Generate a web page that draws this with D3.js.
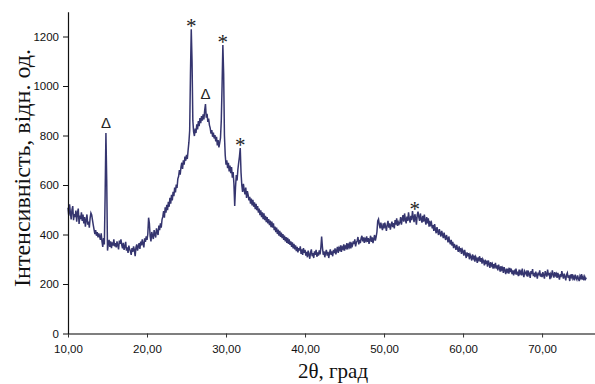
<!DOCTYPE html>
<html>
<head>
<meta charset="utf-8">
<script src="https://cdn.jsdelivr.net/npm/d3@7"></script>
<style>
  body { margin: 0; background: #fff; }
  svg { display: block; }
</style>
</head>
<body>
<svg id="chart" width="595" height="384"></svg>
<script>
// scan: 2theta from 10 deg, step 0.1 deg
const scanStart = 10;
const scanStep = 0.1;

// intensity, 20 values per 2 deg
const intensity = [
  508, 476, 522, 489, 461, 500, 515, 458, 482, 470, 497, 452, 486, 505, 443, 476, 462, 490, 455, 481,   // 10
  445, 470, 432, 458, 481, 440, 452, 428, 466, 487, 479, 458, 438, 420, 402, 418, 395, 410, 388, 404,   // 12
  392, 378, 405, 372, 350, 386, 360, 560, 810, 620, 335, 362, 378, 350, 372, 345, 368, 355, 380, 352,   // 14
  365, 348, 372, 356, 340, 375, 362, 380, 358, 344, 366, 338, 352, 370, 335, 348, 326, 355, 340, 332,   // 16
  318, 345, 330, 352, 338, 312, 348, 360, 335, 352, 365, 342, 371, 356, 380, 362, 348, 385, 370, 392,   // 18
  378, 402, 468, 445, 392, 372, 410, 395, 382, 418, 400, 388, 425, 410, 398, 436, 418, 445, 428, 460,   // 20
  472, 495, 468, 510, 488, 520, 498, 532, 512, 548, 525, 560, 538, 572, 555, 590, 570, 602, 588, 625,   // 22
  635, 660, 642, 672, 690, 665, 700, 682, 715, 698, 722, 705, 740, 772, 820, 1050, 1229, 1100, 860, 815, // 24
  798, 828, 810, 845, 825, 858, 838, 870, 850, 878, 860, 885, 865, 902, 927, 872, 888, 855, 868, 842,   // 26
  830, 808, 822, 795, 812, 788, 802, 776, 795, 760, 782, 752, 770, 790, 860, 1000, 1166, 1050, 800, 720, // 28
  682, 700, 668, 690, 655, 678, 648, 672, 630, 652, 605, 515, 590, 640, 618, 662, 690, 715, 749, 650,   // 30
  598, 572, 605, 580, 562, 590, 548, 575, 560, 538, 552, 525, 545, 518, 540, 512, 530, 502, 524, 498,   // 32
  515, 488, 505, 478, 498, 470, 490, 462, 485, 458, 475, 450, 470, 445, 462, 438, 456, 430, 452, 428,   // 34
  445, 418, 432, 410, 428, 402, 420, 395, 415, 390, 408, 385, 402, 378, 396, 372, 390, 366, 386, 362,   // 36
  380, 358, 372, 350, 368, 344, 362, 340, 356, 333, 350, 328, 345, 335, 352, 322, 340, 318, 345, 326,   // 38
  338, 315, 330, 308, 335, 320, 302, 328, 340, 312, 325, 305, 332, 318, 338, 310, 328, 315, 336, 320,   // 40
  345, 392, 350, 318, 332, 308, 326, 338, 315, 330, 305, 325, 340, 318, 332, 312, 338, 325, 344, 320,   // 42
  335, 350, 326, 345, 338, 356, 330, 348, 342, 360, 335, 352, 346, 365, 340, 358, 350, 370, 344, 362,   // 44
  355, 372, 362, 380, 352, 368, 375, 390, 360, 378, 365, 385, 395, 372, 388, 366, 382, 375, 392, 370,   // 46
  385, 362, 378, 395, 370, 388, 365, 382, 398, 375, 390, 410, 455, 462, 440, 425, 448, 430, 418, 445,   // 48
  425, 448, 432, 415, 440, 455, 428, 445, 420, 438, 452, 430, 446, 425, 458, 440, 465, 435, 450, 442,   // 50
  448, 470, 440, 462, 478, 452, 485, 460, 445, 472, 455, 490, 462, 448, 475, 458, 495, 470, 450, 482,   // 52
  465, 440, 478, 492, 470, 455, 485, 462, 448, 475, 452, 480, 458, 440, 470, 445, 465, 432, 455, 440,   // 54
  448, 425, 438, 415, 442, 420, 405, 430, 412, 398, 422, 405, 392, 415, 400, 385, 408, 390, 378, 398,   // 56
  385, 368, 392, 372, 360, 378, 355, 370, 345, 362, 352, 338, 358, 342, 330, 352, 336, 345, 322, 340,   // 58
  332, 315, 338, 322, 305, 328, 312, 325, 300, 318, 310, 295, 320, 305, 315, 290, 310, 302, 285, 308,   // 60
  298, 312, 290, 305, 282, 300, 292, 275, 298, 285, 290, 270, 295, 282, 265, 288, 275, 282, 262, 280,   // 62
  270, 285, 262, 275, 255, 278, 265, 250, 272, 258, 265, 245, 268, 255, 240, 262, 250, 258, 242, 265,   // 64
  248, 262, 240, 255, 235, 252, 245, 262, 238, 250, 232, 258, 242, 250, 235, 262, 240, 228, 252, 245,   // 66
  238, 255, 230, 248, 242, 225, 252, 240, 260, 232, 245, 228, 250, 238, 222, 246, 235, 255, 230, 242,   // 68
  228, 248, 236, 222, 252, 240, 230, 258, 235, 245, 220, 240, 232, 255, 238, 226, 248, 235, 242, 225,   // 70
  245, 232, 218, 240, 228, 252, 236, 222, 242, 230, 215, 238, 245, 225, 235, 212, 238, 228, 240, 222,   // 72
  230, 215, 238, 225, 218, 235, 222, 212, 232, 224, 240, 218, 228, 215, 230, 220, 226                   // 74
];

// peak markers
const markTheta = [14.8, 25.6, 29.6, 27.4, 31.8, 53.9];
const markPeak = [810, 1229, 1166, 927, 749, 492];
const markSymbol = ['Δ', '*', '*', 'Δ', '*', '*'];

const xTicks = [10, 20, 30, 40, 50, 60, 70];
const yTicks = [0, 200, 400, 600, 800, 1000, 1200];

const lineColor = '#35356f';

const svg = d3.select('#chart');

const x = d3.scaleLinear().domain([10, 76.7]).range([68, 595]);
const y = d3.scaleLinear().domain([0, 1300]).range([333.5, 11.75]);

const points = intensity.map((v, i) => ({ t: scanStart + i * scanStep, v: v }));

// pattern
svg.append('path')
  .datum(points)
  .attr('fill', 'none')
  .attr('stroke', lineColor)
  .attr('stroke-width', 1.5)
  .attr('d', d3.line().x(d => x(d.t)).y(d => y(d.v)));

// x axis
const xAxis = svg.append('g')
  .attr('transform', `translate(0,${y(0)})`)
  .call(d3.axisBottom(x)
    .tickValues(xTicks)
    .tickSize(4)
    .tickSizeOuter(0)
    .tickFormat(d => d3.format('.2f')(d).replace('.', ',')));
xAxis.select('.domain').attr('stroke', '#555').attr('stroke-width', 1.6);
xAxis.selectAll('.tick line').attr('stroke', '#333');
xAxis.selectAll('.tick text')
  .attr('y', 11)
  .attr('fill', '#111')
  .style('font-family', '"Liberation Sans", Arial, sans-serif')
  .style('font-size', '11.5px');

// y axis
const yAxis = svg.append('g')
  .attr('transform', `translate(${x(10)},0)`)
  .call(d3.axisLeft(y)
    .tickValues(yTicks)
    .tickSize(5)
    .tickSizeOuter(0)
    .tickFormat(d3.format('d')));
yAxis.select('.domain').attr('stroke', '#111').attr('stroke-width', 1.2);
yAxis.selectAll('.tick line').attr('stroke', '#111');
yAxis.selectAll('.tick text')
  .attr('x', -9)
  .attr('fill', '#111')
  .style('font-family', '"Liberation Sans", Arial, sans-serif')
  .style('font-size', '11.5px');

// markers over peaks
svg.selectAll('.mark')
  .data(markTheta)
  .enter()
  .append('text')
  .attr('class', 'mark')
  .attr('x', d => x(d))
  .attr('y', (d, i) => markSymbol[i] === '*' ? y(markPeak[i]) + 4 : y(markPeak[i]) - 5)
  .attr('text-anchor', 'middle')
  .attr('fill', '#222')
  .style('font-family', (d, i) => markSymbol[i] === '*' ? '"Liberation Serif", "Times New Roman", serif' : '"Liberation Sans", Arial, sans-serif')
  .style('font-size', (d, i) => markSymbol[i] === '*' ? '21px' : '15px')
  .text((d, i) => markSymbol[i]);

// axis titles
svg.append('text')
  .attr('transform', 'translate(30,168) rotate(-90)')
  .attr('text-anchor', 'middle')
  .attr('fill', '#111')
  .style('font-family', '"Liberation Serif", "Times New Roman", serif')
  .style('font-size', '24px')
  .text('Інтенсивність, відн. од.');

svg.append('text')
  .attr('x', 333)
  .attr('y', 378)
  .attr('text-anchor', 'middle')
  .attr('fill', '#111')
  .style('font-family', '"Liberation Serif", "Times New Roman", serif')
  .style('font-size', '21px')
  .text('2θ, град');
</script>
</body>
</html>
